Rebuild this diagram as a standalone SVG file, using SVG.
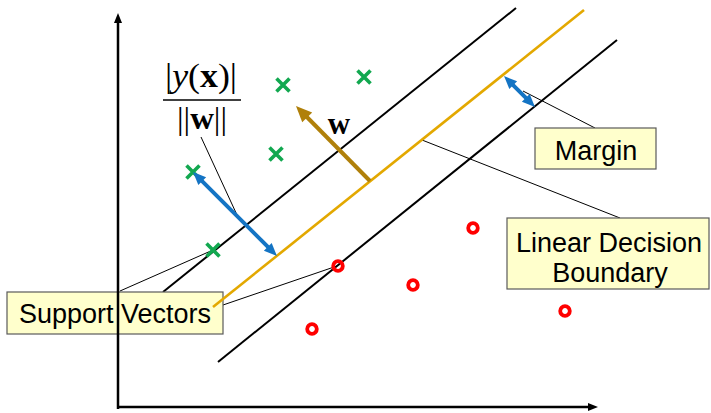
<svg xmlns="http://www.w3.org/2000/svg" width="711" height="413" viewBox="0 0 711 413">
<style>
.axis{stroke:#000;stroke-width:2.5;fill:none}
.mline{stroke:#000;stroke-width:2;fill:none}
.boundary{stroke:#E3A800;stroke-width:2.6;fill:none}
.leader{stroke:#000;stroke-width:1;fill:none}
.blue{stroke:#1474C4;stroke-width:4;fill:none}
.brown{stroke:#B0800A;stroke-width:4;fill:none}
.box{fill:#FFFFCC;stroke:#5a5a5a;stroke-width:1.2}
.lbl{font-family:"Liberation Sans",Arial,sans-serif;font-size:27px;fill:#000;text-anchor:middle}
.math{font-family:"Liberation Serif","Times New Roman",serif;fill:#000}
.gx{stroke:#12A850;stroke-width:3.6;fill:none}
.rc{stroke:#FF0000;stroke-width:3.8;fill:none}
</style>
<defs>
<marker id="ah-axis" markerUnits="userSpaceOnUse" markerWidth="10" markerHeight="8" refX="2" refY="4" orient="auto-start-reverse" overflow="visible"><path d="M0,0 L10,4 L0,8 z" fill="#000"/></marker>
<marker id="ah-blue" markerUnits="userSpaceOnUse" markerWidth="13" markerHeight="11" refX="3" refY="5.5" orient="auto-start-reverse" overflow="visible"><path d="M0,0 L13,5.5 L0,11 z" fill="#1474C4"/></marker>
<marker id="ah-brown" markerUnits="userSpaceOnUse" markerWidth="16" markerHeight="14" refX="4" refY="7" orient="auto" overflow="visible"><path d="M0,0 L16,7 L0,14 z" fill="#B0800A"/></marker>
<path id="cross" d="M-6.5,-6.5 L6.5,6.5 M-6.5,6.5 L6.5,-6.5"/>
<circle id="ring" r="4.8"/>
</defs>

<g id="margin-lines">
<line class="mline" x1="163" y1="292" x2="516" y2="8"/>
<line class="mline" x1="218" y1="362" x2="617" y2="40"/>
</g>

<g id="connectors">
<line class="leader" x1="120" y1="291" x2="213" y2="250"/>
<line class="leader" x1="223" y1="305" x2="337" y2="266"/>
<line class="leader" x1="201" y1="137" x2="237" y2="215"/>
<line class="leader" x1="523" y1="91" x2="595" y2="128"/>
<line class="leader" x1="422" y1="140" x2="620" y2="218"/>
</g>

<g id="support-vectors">
<rect class="box" x="7" y="292" width="216" height="42"/>
<text class="lbl" x="115" y="323">Support Vectors</text>
</g>

<g id="axes">
<line class="axis" x1="118" y1="409" x2="118" y2="21" marker-end="url(#ah-axis)"/>
<line class="axis" x1="117" y1="407" x2="590" y2="407" marker-end="url(#ah-axis)"/>
</g>

<g id="decision-boundary-line">
<line class="boundary" x1="213" y1="307" x2="584" y2="10"/>
</g>

<g id="class-green">
<use href="#cross" class="gx" x="283" y="85"/>
<use href="#cross" class="gx" x="364" y="77"/>
<use href="#cross" class="gx" x="276" y="154"/>
<use href="#cross" class="gx" x="193" y="172"/>
<use href="#cross" class="gx" x="213" y="250"/>
</g>

<g id="class-red">
<use href="#ring" class="rc" x="338" y="266"/>
<use href="#ring" class="rc" x="413" y="285"/>
<use href="#ring" class="rc" x="473" y="228"/>
<use href="#ring" class="rc" x="312" y="329"/>
<use href="#ring" class="rc" x="565" y="311"/>
</g>

<g id="arrows">
<line class="blue" x1="200.1" y1="179.1" x2="269.9" y2="248.9" marker-start="url(#ah-blue)" marker-end="url(#ah-blue)"/>
<line class="blue" x1="511.1" y1="83.1" x2="527.9" y2="99.9" marker-start="url(#ah-blue)" marker-end="url(#ah-blue)"/>
<line class="brown" x1="370" y1="181" x2="304.4" y2="114.5" marker-end="url(#ah-brown)"/>
</g>

<g id="label-w">
<text class="math" x="339" y="134" font-size="31" font-weight="bold" text-anchor="middle">w</text>
</g>

<g id="label-fraction">
<text class="math" x="201" y="87" font-size="34" text-anchor="middle" textLength="72" lengthAdjust="spacingAndGlyphs">|<tspan font-style="italic">y</tspan>(<tspan font-weight="bold">x</tspan>)|</text>
<line x1="163" y1="100" x2="241" y2="100" stroke="#000" stroke-width="1.4"/>
<text class="math" x="202" y="129" font-size="32" text-anchor="middle" textLength="50" lengthAdjust="spacingAndGlyphs">||<tspan font-weight="bold">w</tspan>||</text>
</g>

<g id="margin">
<rect class="box" x="535" y="128" width="121" height="41"/>
<text class="lbl" x="596" y="160">Margin</text>
</g>

<g id="linear-decision-boundary">
<rect class="box" x="507" y="218" width="202" height="71"/>
<text class="lbl" x="609" y="252">Linear Decision</text>
<text class="lbl" x="610" y="282">Boundary</text>
</g>
</svg>
